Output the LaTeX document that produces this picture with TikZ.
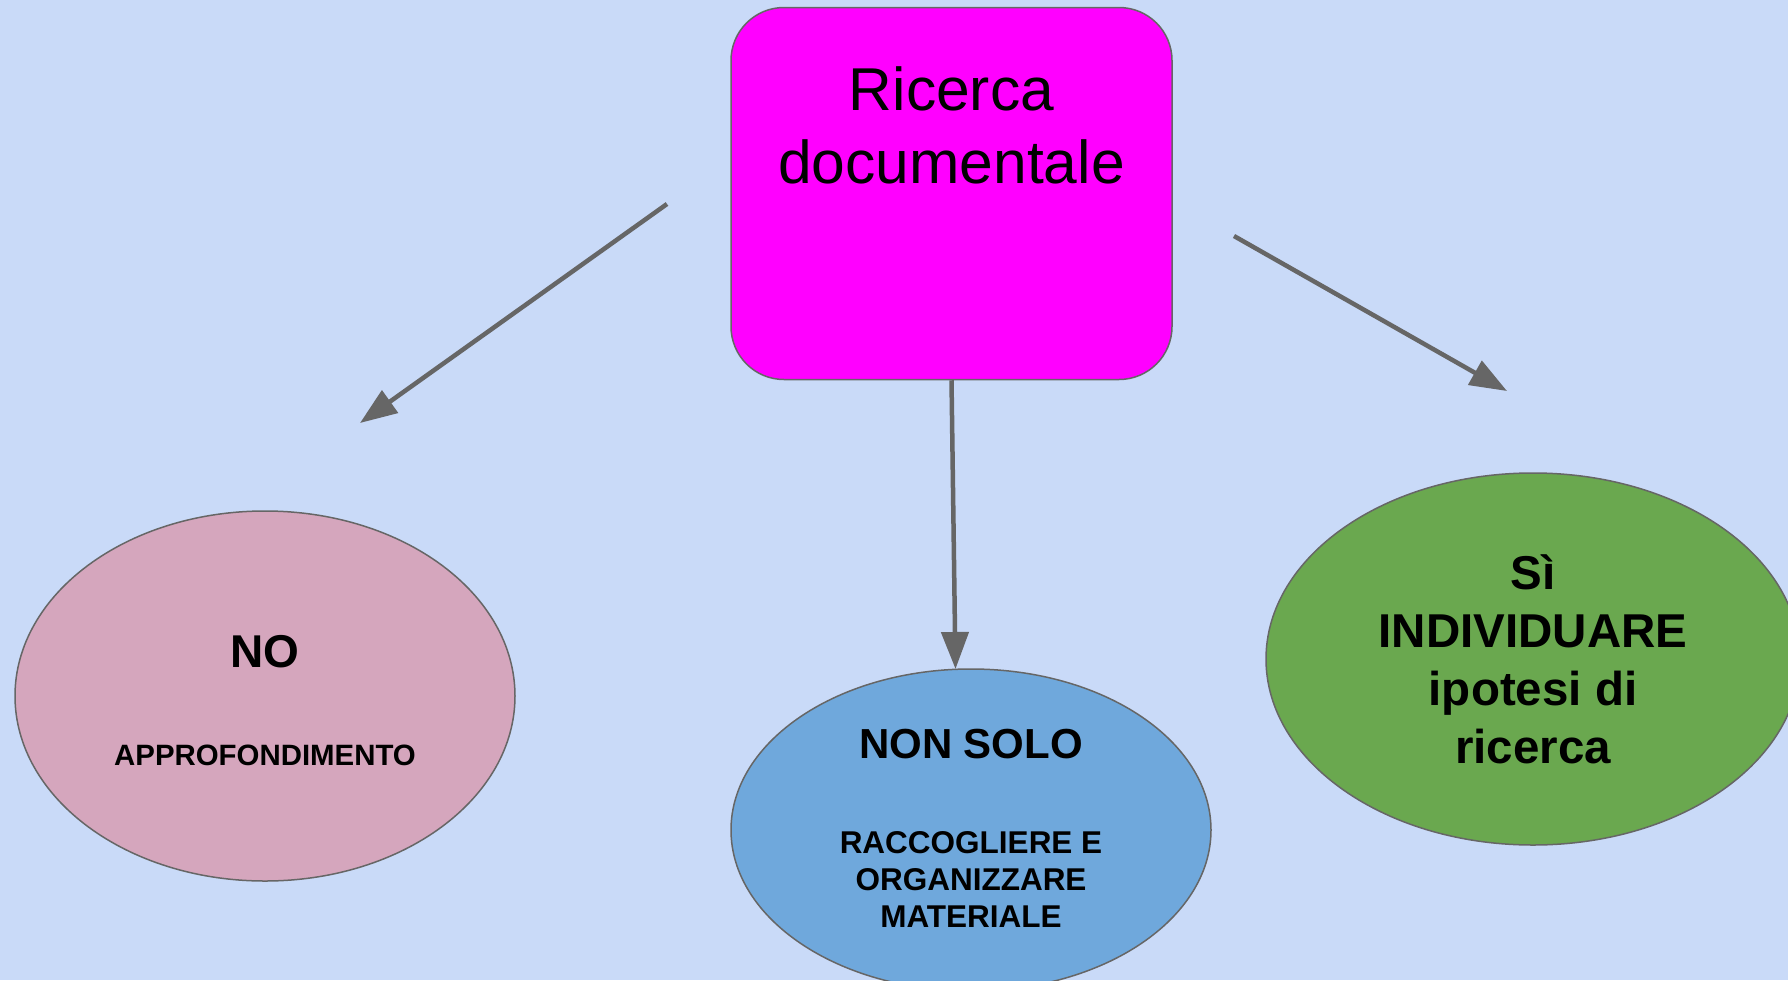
\documentclass[tikz,border=0pt]{standalone}
\usepackage{fontspec}
\setmainfont{Liberation Sans}
\usetikzlibrary{arrows.meta,shapes.geometric}
\definecolor{bg}{HTML}{C9DAF8}
\definecolor{edge}{HTML}{666666}
\definecolor{arrowgray}{HTML}{666666}
\definecolor{magentabox}{HTML}{FF00FF}
\definecolor{pinkoval}{HTML}{D5A6BD}
\definecolor{blueoval}{HTML}{6FA8DC}
\definecolor{greenoval}{HTML}{6AA84F}
\newcommand\dropstrut[1]{\rule[-#1]{0pt}{#1}}
\newcommand\topstrut[1]{\rule{0pt}{#1}}
\begin{document}
\begin{tikzpicture}[x=1pt,y=-1pt,
  border/.style={draw=edge, line width=1.5pt},
  conn/.style={draw=arrowgray, line width=4.5pt, -{Triangle[length=37pt,width=27pt]}},
  oval/.style={border, ellipse, inner sep=0pt, align=center, font=\bfseries}]
\fill[bg] (0,0) rectangle (1788,980);
\useasboundingbox (0,0) rectangle (1788,980);

\node[border, fill=magentabox, rounded corners=53pt, minimum width=441pt,
  minimum height=372pt, inner sep=0pt, align=center,
  font=\fontsize{60.5}{73.5}\selectfont] (rd) at (951.5,193.5)
  {\topstrut{50pt}Ricerca\\documentale\dropstrut{143.5pt}};

\node[oval, fill=pinkoval, minimum width=500pt, minimum height=370pt,
  font=\bfseries\fontsize{29.4}{35}\selectfont] (no) at (265,696)
  {{\fontsize{46}{55}\selectfont\topstrut{45pt}NO}\\[63pt]APPROFONDIMENTO\dropstrut{5pt}};

\node[oval, fill=blueoval, minimum width=480pt, minimum height=322pt,
  font=\bfseries\fontsize{31.5}{37}\selectfont] (nonsolo) at (971,830)
  {{\fontsize{42}{50}\selectfont\topstrut{35.6pt}NON SOLO}\\[58pt]RACCOGLIERE E\\ORGANIZZARE\\MATERIALE\dropstrut{10pt}};

\node[oval, fill=greenoval, minimum width=534pt, minimum height=372pt,
  font=\bfseries\fontsize{47.5}{57.7}\selectfont] (si) at (1533,659)
  {\topstrut{45pt}Sì\\INDIVIDUARE\\ipotesi di\\ricerca\dropstrut{10pt}};

\coordinate (lstart) at (667,204);
\coordinate (ltip) at (360,423);
\coordinate (rstart) at (1234,236);
\coordinate (rtip) at (1507,391);
\coordinate (mtip) at (955.5,669);

\draw[conn] (lstart) -- (ltip);
\draw[conn] (rstart) -- (rtip);
\draw[conn] (rd.south) -- (mtip);
\end{tikzpicture}
\end{document}
